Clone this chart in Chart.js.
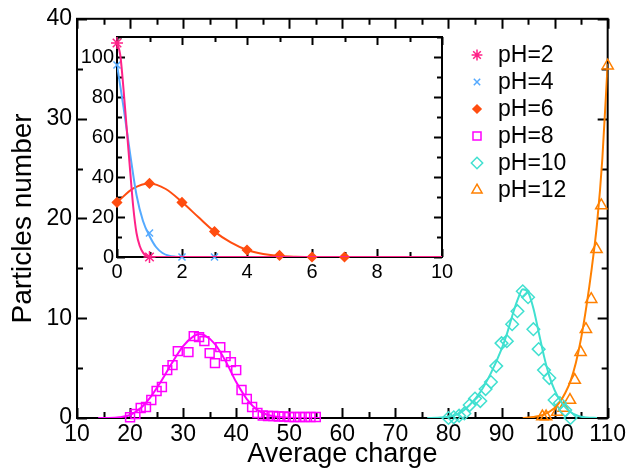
<!DOCTYPE html>
<html>
<head>
<meta charset="utf-8">
<script src="https://cdn.jsdelivr.net/npm/chart.js@4.4.1/dist/chart.umd.min.js"></script>
<style>
  body { margin: 0; background: #fff; }
  #wrap { position: relative; width: 629px; height: 471px; }
  #mainChart { position: absolute; left: 0; top: 0; width: 629px; height: 471px; }
  #insetChart { position: absolute; left: 70px; top: 20px; width: 390px; height: 270px; }
</style>
</head>
<body>
<div id="wrap">
  <canvas id="mainChart" width="629" height="471"></canvas>
  <canvas id="insetChart" width="390" height="270"></canvas>
</div>
<script>
const seriesLabels = ["pH=2", "pH=4", "pH=6", "pH=8", "pH=10", "pH=12"];
const mainXTicks = [10, 20, 30, 40, 50, 60, 70, 80, 90, 100, 110];
const mainYTicks = [0, 10, 20, 30, 40];
const insetXTicks = [0, 2, 4, 6, 8, 10];
const insetYTicks = [0, 20, 40, 60, 80, 100];

// main plot: markers
const ph8X = [20, 21, 22, 23, 24, 25, 26, 27, 28, 29, 31, 32, 33, 34, 35, 36, 37, 38, 39, 40, 41, 42, 43, 44, 45, 46, 47, 48, 49, 50, 51, 52, 53, 54, 55];
const ph8Y = [0.07, 0.4, 1.0, 1.1, 1.8, 2.7, 3.1, 4.8, 5.3, 6.7, 6.6, 8.2, 8.1, 7.7, 6.5, 5.5, 7.1, 6.2, 5.6, 4.8, 2.8, 1.9, 1.1, 0.5, 0.25, 0.2, 0.2, 0.15, 0.15, 0.1, 0.1, 0.1, 0.1, 0.1, 0.1];
const ph10X = [80, 81, 82, 83, 84, 85, 86, 87, 88, 89, 90, 91, 92, 93, 94, 95, 96, 97, 98, 99, 100, 101, 102, 103];
const ph10Y = [0, 0.07, 0.23, 0.46, 1.3, 1.95, 1.7, 2.9, 3.6, 5.2, 7.5, 7.7, 9.4, 10.7, 12.7, 12.1, 8.9, 6.9, 4.8, 4.0, 1.8, 1.5, 0.8, 0];
const ph12X = [97.7, 98.4, 100.5, 101.7, 102.9, 103.8, 104.9, 105.9, 106.9, 107.9, 108.8, 110];
const ph12Y = [0.15, 0.15, 0.6, 1.0, 1.8, 3.8, 6.6, 8.9, 11.9, 16.9, 21.3, 35.3];

// main plot: fitted curves
const fit8X = [14, 16, 18, 20, 22, 24, 26, 28, 30, 32, 33, 34, 36, 38, 40, 42, 44, 46, 48, 50, 53, 56];
const fit8Y = [0, 0.01, 0.08, 0.3, 1.0, 2.2, 3.8, 5.6, 7.2, 8.2, 8.4, 8.3, 7.4, 5.7, 3.6, 1.9, 0.8, 0.3, 0.1, 0.03, 0, 0];
const fit10X = [76, 78, 80, 82, 84, 86, 88, 90, 91, 92, 93, 94, 95, 96, 97, 98, 99, 100, 101, 102, 103, 104, 105, 106, 108];
const fit10Y = [0, 0.03, 0.12, 0.45, 1.3, 2.6, 4.5, 6.9, 8.4, 10.2, 11.8, 12.9, 12.6, 11.0, 8.6, 6.2, 4.2, 2.8, 1.8, 1.1, 0.6, 0.3, 0.12, 0.05, 0];
const fit12X = [94, 96, 98, 100, 101, 102, 103, 104, 105, 106, 107, 108, 109, 110];
const fit12Y = [0, 0.1, 0.35, 1.0, 1.6, 2.5, 3.7, 5.5, 8.0, 11.2, 15.0, 19.5, 26, 35.5];

// inset: markers
const ph2X = [0, 1];
const ph2Y = [107, 0];
const ph4X = [0, 1, 2, 3];
const ph4Y = [96, 12, 0, 0];
const ph6X = [0, 1, 2, 3, 4, 5, 6, 7];
const ph6Y = [27.3, 36.8, 27.3, 12.7, 3.5, 0.8, 0, 0];

// inset: fitted curves
const fit2X = [0, 0.1, 0.2, 0.3, 0.4, 0.5, 0.6, 0.7, 0.8, 0.9, 1.0, 1.2, 10];
const fit2Y = [107, 101, 84, 64, 44, 25, 12, 5.5, 2.2, 0.6, 0.1, 0, 0];
const fit4X = [0, 0.2, 0.4, 0.6, 0.8, 1.0, 1.2, 1.4, 1.6, 1.8, 2.0, 10];
const fit4Y = [96, 75, 52, 31, 18, 10.5, 5, 2, 0.6, 0.15, 0, 0];
const fit6X = [0, 0.5, 1, 1.5, 2, 2.5, 3, 3.5, 4, 4.5, 5, 5.5, 6, 7, 10];
const fit6Y = [27.3, 34.3, 36.8, 34, 27.5, 20, 12.7, 7.3, 3.5, 1.5, 0.5, 0.15, 0.05, 0, 0];

const colors = ["#ff2288", "#55aaff", "#ff4d10", "#ff00ff", "#40e0d0", "#ff8000"];
const markerStyles = [
  { style: "star", radius: 6, fill: false },
  { style: "crossRot", radius: 5, fill: false },
  { style: "rectRot", radius: 4.5, fill: true },
  { style: "rect", radius: 6.3, fill: false },
  { style: "rectRot", radius: 6.3, fill: false },
  { style: "triangle", radius: 6.5, fill: false },
];

const fontFamily = "'Liberation Sans', Arial, sans-serif";
Chart.defaults.font.family = fontFamily;
Chart.defaults.color = "#000";

const toPoints = (xs, ys) => xs.map((x, i) => ({ x: x, y: ys[i] }));
const fixedTicks = (values) => (scale) => {
  scale.ticks = values.map((v) => ({ value: v }));
};

const markerSet = (i, xs, ys) => {
  const m = markerStyles[i];
  return {
    label: seriesLabels[i],
    data: toPoints(xs, ys),
    showLine: false,
    pointStyle: m.style,
    pointRadius: m.radius,
    pointBorderColor: colors[i],
    pointBackgroundColor: m.fill ? colors[i] : "rgba(0,0,0,0)",
    pointBorderWidth: 1.5,
    clip: false,
  };
};

const curveSet = (i, xs, ys) => ({
  data: toPoints(xs, ys),
  showLine: true,
  pointRadius: 0,
  borderColor: colors[i],
  borderWidth: 2,
  cubicInterpolationMode: "monotone",
});

// box round the plot with inward ticks on all four sides
const framePlugin = {
  id: "frame",
  beforeDatasetsDraw(chart, args, opts) {
    const { ctx, chartArea: a, scales } = chart;
    const x = scales.x;
    const y = scales.y;
    ctx.save();
    if (opts.fill) {
      ctx.fillStyle = "#fff";
      ctx.fillRect(a.left, a.top, a.right - a.left, a.bottom - a.top);
    }
    ctx.strokeStyle = "#000";
    ctx.lineWidth = opts.lineWidth;
    ctx.beginPath();
    for (let v = x.min; v <= x.max + 1e-9; v += opts.xMinor) {
      const px = Math.round(x.getPixelForValue(v)) + 0.5;
      const major = Math.abs(((v - x.min) / opts.xMajor) - Math.round((v - x.min) / opts.xMajor)) < 1e-6;
      const len = major ? opts.major : opts.minor;
      ctx.moveTo(px, a.bottom);
      ctx.lineTo(px, a.bottom - len);
      ctx.moveTo(px, a.top);
      ctx.lineTo(px, a.top + len);
    }
    for (let v = y.min; v <= y.max + 1e-9; v += opts.yMinor) {
      const py = Math.round(y.getPixelForValue(v)) + 0.5;
      const major = Math.abs(((v - y.min) / opts.yMajor) - Math.round((v - y.min) / opts.yMajor)) < 1e-6;
      const len = major ? opts.major : opts.minor;
      ctx.moveTo(a.left, py);
      ctx.lineTo(a.left + len, py);
      ctx.moveTo(a.right, py);
      ctx.lineTo(a.right - len, py);
    }
    ctx.stroke();
    ctx.strokeRect(a.left, a.top, a.right - a.left, a.bottom - a.top);
    ctx.restore();
  },
};

const legendPlugin = {
  id: "phLegend",
  afterDraw(chart, args, opts) {
    if (!opts.show) return;
    const { ctx } = chart;
    ctx.save();
    ctx.font = "23px " + fontFamily;
    ctx.textBaseline = "middle";
    seriesLabels.forEach((label, i) => {
      const m = markerStyles[i];
      const y = opts.top + i * opts.rowGap;
      ctx.strokeStyle = colors[i];
      ctx.fillStyle = m.fill ? colors[i] : "rgba(0,0,0,0)";
      ctx.lineWidth = 1.5;
      Chart.helpers.drawPoint(ctx, { pointStyle: m.style, radius: m.radius * 0.9, borderWidth: 1.5, rotation: 0 }, opts.left, y);
      ctx.fillStyle = "#000";
      ctx.fillText(label, opts.left + opts.textGap, y + 1);
    });
    ctx.restore();
  },
};

const mainChart = new Chart(document.getElementById("mainChart"), {
  type: "scatter",
  data: {
    datasets: [
      curveSet(3, fit8X, fit8Y),
      curveSet(4, fit10X, fit10Y),
      curveSet(5, fit12X, fit12Y),
      markerSet(3, ph8X, ph8Y),
      markerSet(4, ph10X, ph10Y),
      markerSet(5, ph12X, ph12Y),
    ],
  },
  options: {
    responsive: false,
    animation: false,
    devicePixelRatio: 1,
    events: [],
    layout: { padding: { top: 15, right: 20, left: 0, bottom: 0 } },
    scales: {
      x: {
        type: "linear",
        min: 10,
        max: 110,
        grid: { display: false, drawTicks: false, tickLength: 0 },
        border: { display: false },
        ticks: { font: { size: 23 }, padding: 3, maxRotation: 0, autoSkip: false },
        afterBuildTicks: fixedTicks(mainXTicks),
        title: { display: true, text: "Average charge", font: { size: 27 }, padding: { top: 0, bottom: 0 } },
        afterFit: (scale) => { scale.height = 53; },
      },
      y: {
        type: "linear",
        min: 0,
        max: 40,
        grid: { display: false, drawTicks: false, tickLength: 0 },
        border: { display: false },
        ticks: { font: { size: 23 }, padding: 5 },
        afterBuildTicks: fixedTicks(mainYTicks),
        title: { display: true, text: "Particles number", font: { size: 28 }, padding: { top: 6, bottom: 0 } },
        afterFit: (scale) => { scale.width = 77; },
      },
    },
    plugins: {
      legend: { display: false },
      tooltip: { enabled: false },
      frame: { lineWidth: 2, xMinor: 5, xMajor: 10, yMinor: 5, yMajor: 10, major: 10, minor: 6, fill: false },
      phLegend: { show: true, left: 477, top: 55, rowGap: 27, textGap: 21 },
    },
  },
  plugins: [framePlugin, legendPlugin],
});

const insetChart = new Chart(document.getElementById("insetChart"), {
  type: "scatter",
  data: {
    datasets: [
      curveSet(0, fit2X, fit2Y),
      curveSet(1, fit4X, fit4Y),
      curveSet(2, fit6X, fit6Y),
      markerSet(0, ph2X, ph2Y),
      markerSet(1, ph4X, ph4Y),
      markerSet(2, ph6X, ph6Y),
    ],
  },
  options: {
    responsive: false,
    animation: false,
    devicePixelRatio: 1,
    events: [],
    layout: { padding: { top: 17, right: 18, left: 0, bottom: 0 } },
    scales: {
      x: {
        type: "linear",
        min: 0,
        max: 10,
        grid: { display: false, drawTicks: false, tickLength: 0 },
        border: { display: false },
        ticks: { font: { size: 20 }, padding: 3, maxRotation: 0, autoSkip: false },
        afterBuildTicks: fixedTicks(insetXTicks),
        afterFit: (scale) => { scale.height = 33; },
      },
      y: {
        type: "linear",
        min: 0,
        max: 110,
        grid: { display: false, drawTicks: false, tickLength: 0 },
        border: { display: false },
        ticks: { font: { size: 20 }, padding: 3 },
        afterBuildTicks: fixedTicks(insetYTicks),
        afterFit: (scale) => { scale.width = 47; },
      },
    },
    plugins: {
      legend: { display: false },
      tooltip: { enabled: false },
      frame: { lineWidth: 2, xMinor: 1, xMajor: 2, yMinor: 10, yMajor: 20, major: 8, minor: 5, fill: true },
      phLegend: { show: false },
    },
  },
  plugins: [framePlugin, legendPlugin],
});
</script>
</body>
</html>
